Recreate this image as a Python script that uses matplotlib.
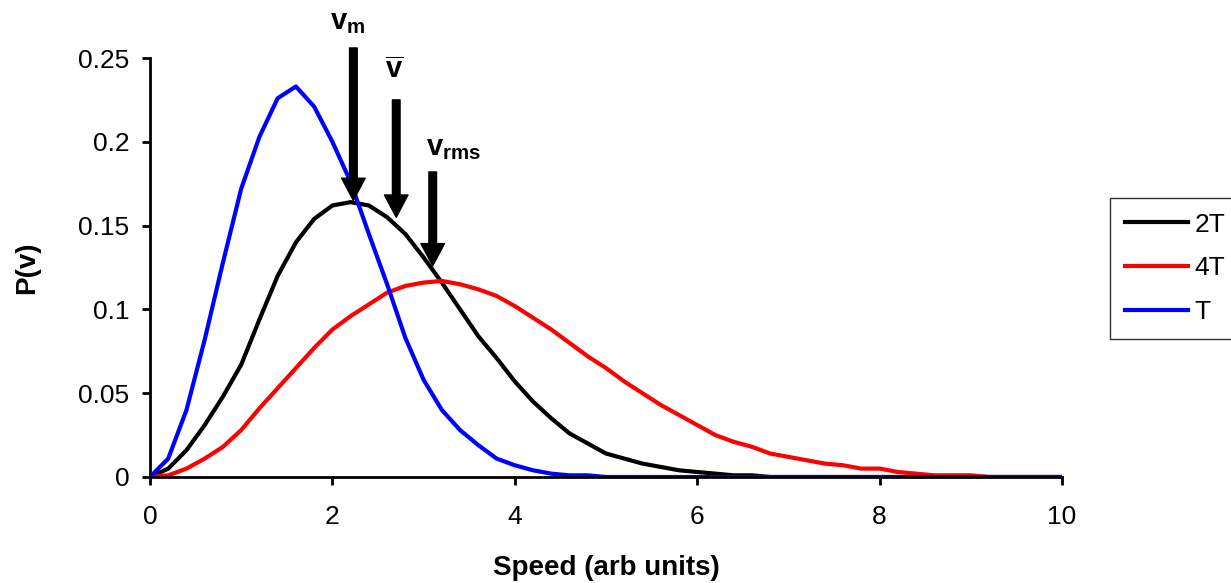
import numpy as np
from matplotlib import pyplot as plt

plt.rcParams['font.family'] = ['Liberation Sans', 'DejaVu Sans']
plt.rcParams['mathtext.fontset'] = 'custom'
plt.rcParams['mathtext.rm'] = 'Liberation Sans'
plt.rcParams['mathtext.bf'] = 'Liberation Sans:bold'

# speed grid (arb units)
speed = [0.0, 0.2, 0.4, 0.6, 0.8, 1.0, 1.2, 1.4, 1.6, 1.8,
         2.0, 2.2, 2.4, 2.6, 2.8, 3.0, 3.2, 3.4, 3.6, 3.8,
         4.0, 4.2, 4.4, 4.6, 4.8, 5.0, 5.2, 5.4, 5.6, 5.8,
         6.0, 6.2, 6.4, 6.6, 6.8, 7.0, 7.2, 7.4, 7.6, 7.8,
         8.0, 8.2, 8.4, 8.6, 8.8, 9.0, 9.2, 9.4, 9.6, 9.8, 10.0]

p_2T = [0, 0.005, 0.016, 0.031, 0.048, 0.067, 0.094, 0.120, 0.140, 0.154,
        0.162, 0.164, 0.162, 0.155, 0.145, 0.131, 0.116, 0.100, 0.084, 0.071,
        0.057, 0.045, 0.035, 0.026, 0.020, 0.014, 0.011, 0.008, 0.006, 0.004,
        0.003, 0.002, 0.001, 0.001, 0, 0, 0, 0, 0, 0,
        0, 0, 0, 0, 0, 0, 0, 0, 0, 0, 0]

p_4T = [0, 0.001, 0.005, 0.011, 0.018, 0.028, 0.041, 0.053, 0.065, 0.077,
        0.088, 0.096, 0.103, 0.110, 0.114, 0.116, 0.117, 0.115, 0.112, 0.108,
        0.102, 0.095, 0.088, 0.080, 0.072, 0.065, 0.057, 0.050, 0.043, 0.037,
        0.031, 0.025, 0.021, 0.018, 0.014, 0.012, 0.010, 0.008, 0.007, 0.005,
        0.005, 0.003, 0.002, 0.001, 0.001, 0.001, 0, 0, 0, 0, 0]

p_T = [0, 0.011, 0.040, 0.082, 0.128, 0.172, 0.203, 0.226, 0.233, 0.221,
       0.200, 0.176, 0.145, 0.115, 0.083, 0.058, 0.040, 0.028, 0.019, 0.011,
       0.007, 0.004, 0.002, 0.001, 0.001, 0, 0, 0, 0, 0,
       0, 0, 0, 0, 0, 0, 0, 0, 0, 0,
       0, 0, 0, 0, 0, 0, 0, 0, 0, 0, 0]

# arrow markers: (label, label x, label y, arrow x, top of shaft, tip)
markers = [(r'$\mathbf{v_m}$', 1.97, 0.263, 2.23, 0.256, 0.165),
           (r'$\mathbf{\overline{v}}$', 2.58, 0.234, 2.70, 0.225, 0.155),
           (r'$\mathbf{v_{rms}}$', 3.03, 0.188, 3.10, 0.182, 0.126)]

fig = plt.figure(figsize=(12.31, 5.83), dpi=100)
ax = fig.add_axes([150 / 1231, 1 - 477 / 583, 912 / 1231, 419 / 583])

ax.plot(speed, p_2T, color='black', lw=3, label='2T')
ax.plot(speed, p_4T, color='#ff0000', lw=3, label='4T')
ax.plot(speed, p_T, color='#0000ff', lw=3, label='T')

ax.set_xlim(0, 10)
ax.set_ylim(0, 0.25)
ax.set_xticks([0, 2, 4, 6, 8, 10])
ax.set_yticks([0, 0.05, 0.1, 0.15, 0.2, 0.25])
ax.set_yticklabels(['0', '0.05', '0.1', '0.15', '0.2', '0.25'])
ax.tick_params(direction='out', length=6, width=2, labelsize=19)
ax.tick_params(axis='y', pad=9)
ax.tick_params(axis='x', pad=14)
for s in ['top', 'right']:
    ax.spines[s].set_visible(False)
for s in ['left', 'bottom']:
    ax.spines[s].set_linewidth(2)

ax.set_xlabel('Speed (arb units)', fontsize=20, fontweight='bold', labelpad=19)
ax.set_ylabel('P(v)', fontsize=20, fontweight='bold', labelpad=27)

for label, lx, ly, x, top, tip in markers:
    ax.annotate('', xy=(x, tip), xytext=(x, top),
                arrowprops=dict(facecolor='black', edgecolor='black',
                                width=5.5, headwidth=17, headlength=16, shrink=0),
                annotation_clip=False)
    ax.text(lx, ly, label, fontsize=21, ha='left', va='bottom',
            clip_on=False)

ax.legend(loc='upper left', bbox_to_anchor=(1110 / 1231, 1 - 198 / 583),
          bbox_transform=fig.transFigure, fontsize=19, frameon=True,
          fancybox=False, edgecolor='black', handlelength=2.4,
          handletextpad=0.25, labelspacing=0.75, borderpad=0.55,
          borderaxespad=0)

fig.savefig('out.png', dpi=100)
